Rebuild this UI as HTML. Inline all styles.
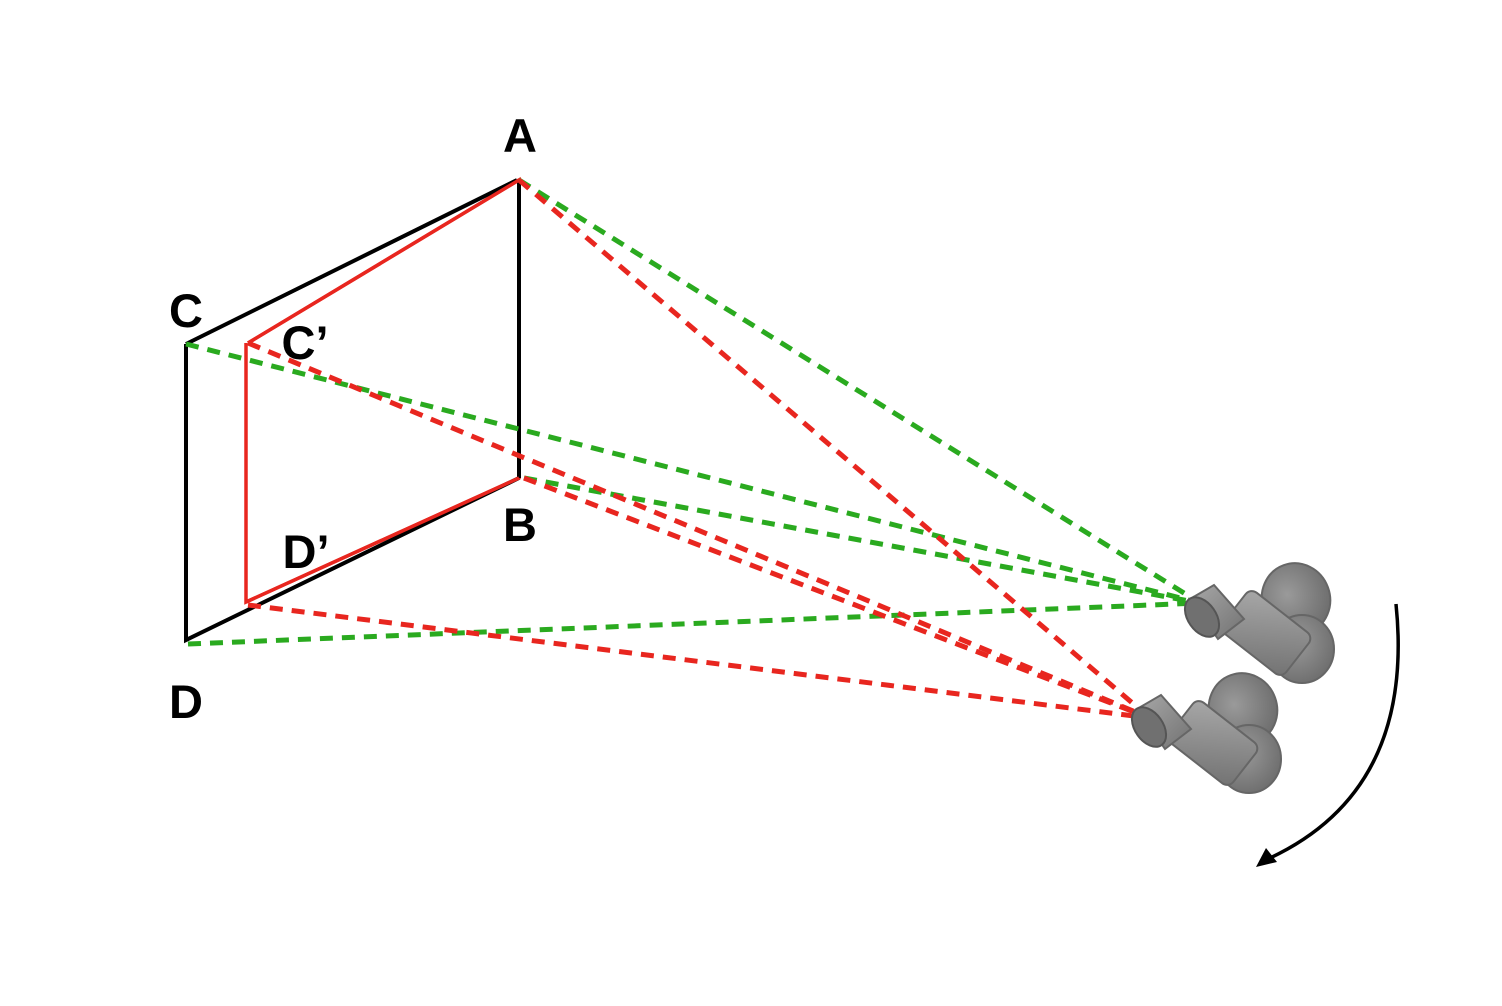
<!DOCTYPE html>
<html><head><meta charset="utf-8"><style>
html,body{margin:0;padding:0;background:#fff;}
svg{display:block;}
text{font-family:"Liberation Sans",Arial,sans-serif;font-weight:bold;font-size:47px;fill:#000;text-anchor:middle;}
</style></head><body>
<svg width="1502" height="1006" viewBox="0 0 1502 1006">
<defs>
<linearGradient id="g1" x1="0" y1="0" x2="1" y2="1"><stop offset="0" stop-color="#a8a8a8"/><stop offset="1" stop-color="#727272"/></linearGradient>
<radialGradient id="g2" cx="0.4" cy="0.4" r="0.7"><stop offset="0" stop-color="#9a9a9a"/><stop offset="1" stop-color="#6a6a6a"/></radialGradient>
<g id="cam">
<ellipse cx="100" cy="2" rx="34" ry="36" fill="url(#g2)" stroke="#666" stroke-width="2" transform="rotate(-20 100 2)"/>
<ellipse cx="106" cy="52" rx="32" ry="34" fill="url(#g2)" stroke="#666" stroke-width="2"/>
<rect x="30" y="10" width="80" height="52" rx="8" fill="url(#g1)" stroke="#666" stroke-width="2" transform="rotate(38 70 36)"/>
<polygon points="-6,2 18,-12 48,22 22,42" fill="url(#g1)" stroke="#666" stroke-width="2"/>
<ellipse cx="6" cy="20" rx="14" ry="22" fill="#707070" stroke="#555" stroke-width="2" transform="rotate(-35 6 20)"/>
</g>
</defs>
<g stroke="#e8261f" stroke-width="3.5" fill="none">
<polyline points="248,343 519,180 519,478 246,602 246,343"/>
</g>
<g stroke="#000" stroke-width="4" fill="none">
<polyline points="186,344 517,180"/>
<line x1="519" y1="180" x2="519" y2="478"/>
<polyline points="519,478 186,640 186,344"/>
</g>
<line x1="248" y1="343" x2="519" y2="180" stroke="#e8261f" stroke-width="3.5"/>
<line x1="246" y1="602" x2="519" y2="478" stroke="#e8261f" stroke-width="3.5"/>
<g stroke="#2aaa1f" stroke-width="5" stroke-dasharray="13 9" fill="none">
<line x1="519" y1="180" x2="1200" y2="603"/>
<line x1="186" y1="344" x2="1200" y2="603"/>
<line x1="524" y1="478" x2="1200" y2="603"/>
<line x1="188" y1="644" x2="1200" y2="603"/>
</g>
<g stroke="#e8261f" stroke-width="5" stroke-dasharray="13 9" fill="none">
<line x1="519" y1="180" x2="1150" y2="718"/>
<line x1="248" y1="343" x2="1150" y2="718"/>
<line x1="524" y1="478" x2="1150" y2="718"/>
<line x1="248" y1="605" x2="1150" y2="718"/>
</g>
<use href="#cam" x="1196" y="597"/>
<use href="#cam" x="1143" y="707"/>
<g>
<path d="M1396,604 Q1415,790 1270,858" stroke="#000" stroke-width="3.5" fill="none"/>
<polygon points="1256,867 1266,848 1277,862" fill="#000"/>
</g>
<text x="520" y="152">A</text>
<text x="186" y="327">C</text>
<text x="305" y="359">C’</text>
<text x="520" y="541">B</text>
<text x="306" y="568">D’</text>
<text x="186" y="718">D</text>
</svg>
</body></html>
